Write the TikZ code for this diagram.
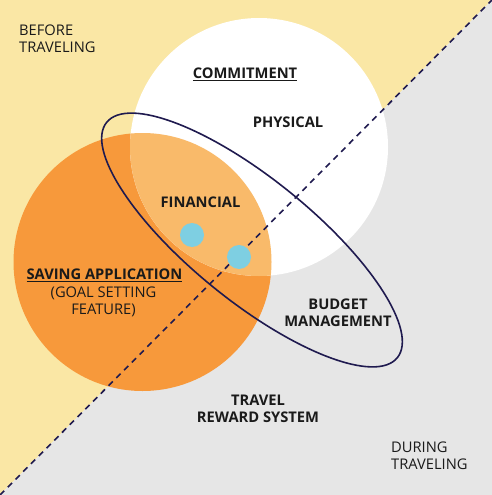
\documentclass[tikz,border=0pt]{standalone}
\usepackage{fontspec}
\setmainfont{Open Sans}
\definecolor{bgyellow}{HTML}{FAE7A5}
\definecolor{bggray}{HTML}{E6E6E6}
\definecolor{orangec}{HTML}{F7993B}
\definecolor{lightorange}{HTML}{F9BA6A}
\definecolor{dotblue}{HTML}{7ECFE2}
\definecolor{navy}{HTML}{1F1A4F}
\definecolor{txt}{HTML}{1A1A1A}
\tikzset{
  boldlbl/.style={font=\fontsize{14.7}{17}\selectfont\bfseries, text=txt, align=center, inner sep=0pt},
  reglbl/.style={font=\fontsize{14.7}{17}\selectfont, text=txt, inner sep=0pt},
  dotnode/.style={circle, fill=dotblue, minimum size=24pt, inner sep=0pt},
}
\begin{document}
\begin{tikzpicture}[x=1pt,y=-1pt]
\useasboundingbox (0,0) rectangle (492,495);
% background halves
\fill[bgyellow] (0,0) -- (492,0) -- (0,495) -- cycle;
\fill[bggray] (492,0) -- (492,495) -- (0,495) -- cycle;
% circles
\fill[orangec] (142.5,262) circle (129);
\fill[white] (259,147) circle (129);
\begin{scope}
  \clip (142.5,262) circle (129);
  \fill[lightorange] (259,147) circle (129);
\end{scope}
% diagonal
\coordinate (dl) at (0,495);
\coordinate (dr) at (492,0);
\draw[navy, line width=1.6pt, dash pattern=on 6pt off 5pt] (dl) -- (dr);
% ellipse
\draw[navy, line width=1.6pt, rotate around={-39:(252,240)}] (252,240) ellipse [x radius=187pt, y radius=61pt];
% dots
\node[dotnode] (d1) at (192,235) {};
\node[dotnode] (d2) at (239,257) {};
% labels
\node[reglbl, anchor=west, align=left] (before) at (19,38.5) {BEFORE\\TRAVELING};
\node[reglbl, anchor=west, align=left] (during) at (391,456) {DURING\\TRAVELING};
\node[boldlbl] (commit) at (245,74) {\underline{COMMITMENT}};
\node[boldlbl] (phys) at (288,122) {PHYSICAL};
\node[boldlbl] (fin) at (200.5,202) {FINANCIAL};
\node[boldlbl] (saving) at (104.5,275) {\underline{SAVING APPLICATION}};
\node[reglbl, align=center] (goal) at (103.5,301.5) {(GOAL SETTING\\FEATURE)};
\node[boldlbl] (budget) at (338,312.5) {BUDGET\\MANAGEMENT};
\node[boldlbl] (reward) at (258,408.5) {TRAVEL\\REWARD SYSTEM};
\end{tikzpicture}
\end{document}
